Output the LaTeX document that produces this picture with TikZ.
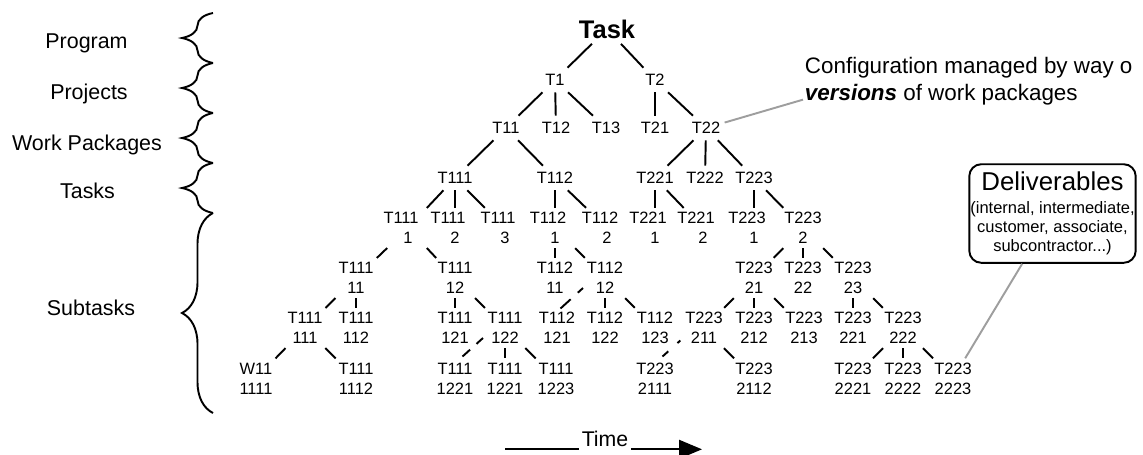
\documentclass[tikz,border=0pt]{standalone}
\usepackage{fontspec}
\setmainfont{Liberation Sans}
\usetikzlibrary{decorations.pathreplacing,arrows.meta,calc}

\newcommand\treefont{\fontsize{9.35}{11.3}\selectfont}
\newcommand\sidefont{\fontsize{12.2}{14.6}\selectfont}
\newcommand\taskfont{\fontsize{14.5}{17}\selectfont\bfseries}
\newcommand\cfgfont{\fontsize{12.75}{15.1}\selectfont}
\newcommand\delivbig{\fontsize{14.7}{17}\selectfont}
\newcommand\delivsmall{\fontsize{9.4}{10.9}\selectfont}
\newcommand\timefont{\fontsize{12.1}{14}\selectfont}
\newcommand\firstshift{\hspace*{0.85em}}

\begin{document}
\begin{tikzpicture}[x=0.02cm,y=-0.02cm,
  line width=1.1pt,
  taskbox/.style={font=\taskfont, inner xsep=2pt, inner ysep=2.7pt, text height=10.4pt, text depth=0pt},
  lbl/.style={font=\treefont, inner xsep=2pt, inner ysep=3.1pt, text height=6.7pt, text depth=0pt},
  lbl2/.style={font=\treefont, align=center, inner xsep=2pt, inner ysep=2pt},
  side/.style={font=\sidefont, anchor=base, inner sep=0pt},
  branch/.style={draw=black, line width=1.1pt},
  bracket/.style={decorate, decoration={brace, amplitude=0.62cm}, line width=1.1pt},
  note/.style={draw=black!38, line width=1.1pt},
]
\useasboundingbox (0,0) rectangle (1143,454);

% level names and their braces
\node[side] (lprog) at (86.5,48) {Program};
\node[side] (lproj) at (89,99.5) {Projects};
\node[side] (lwp)   at (87,150) {Work Packages};
\node[side] (ltask) at (87.5,198) {Tasks};
\node[side] (lsub)  at (91,315.7) {Subtasks};

\coordinate (b0) at (213,13);
\coordinate (b1) at (213,63);
\coordinate (b2) at (213,113);
\coordinate (b3) at (213,163);
\coordinate (b4) at (213,213);
\coordinate (b5) at (213,413);
\draw[bracket] (b1) -- (b0);
\draw[bracket] (b2) -- (b1);
\draw[bracket] (b3) -- (b2);
\draw[bracket] (b4) -- (b3);
\draw[bracket] (b5) -- (b4);

% task tree
\node[taskbox] (task) at (607,29) {Task};
\node[lbl] (t1) at (555,80) {T1};
\node[lbl] (t2) at (655,80) {T2};
\node[lbl] (t11) at (506,128) {T11};
\node[lbl] (t12) at (556,128) {T12};
\node[lbl] (t13) at (606,128) {T13};
\node[lbl] (t21) at (655,128) {T21};
\node[lbl] (t22) at (706,128) {T22};
\node[lbl] (t111) at (455,178) {T111};
\node[lbl] (t112) at (555,178) {T112};
\node[lbl] (t221) at (655,178) {T221};
\node[lbl] (t222) at (705,178) {T222};
\node[lbl] (t223) at (754,178) {T223};

\node[lbl2] (t1111) at (408,228) {T111\firstshift\\1};
\node[lbl2] (t1112) at (455,228) {T111\firstshift\\2};
\node[lbl2] (t1113) at (505,228) {T111\firstshift\\3};
\node[lbl2] (t1121) at (555,228) {T112\firstshift\\1};
\node[lbl2] (t1122) at (607,228) {T112\firstshift\\2};
\node[lbl2] (t2211) at (655,228) {T221\firstshift\\1};
\node[lbl2] (t2212) at (703,228) {T221\firstshift\\2};
\node[lbl2] (t2231) at (754,228) {T223\firstshift\\1};
\node[lbl2] (t2232) at (803,228) {T223\\2};

\node[lbl2] (t11111) at (356,278) {T111\\11};
\node[lbl2] (t11112) at (455,278) {T111\\12};
\node[lbl2] (t11211) at (555,278) {T112\\11};
\node[lbl2] (t11212) at (605,278) {T112\\12};
\node[lbl2] (t22321) at (754,278) {T223\\21};
\node[lbl2] (t22322) at (803,278) {T223\\22};
\node[lbl2] (t22323) at (853,278) {T223\\23};

\node[lbl2] (t111111) at (305,328) {T111\\111};
\node[lbl2] (t111112) at (356,328) {T111\\112};
\node[lbl2] (t111121) at (455,328) {T111\\121};
\node[lbl2] (t111122) at (505,328) {T111\\122};
\node[lbl2] (t112121) at (557,328) {T112\\121};
\node[lbl2] (t112122) at (605,328) {T112\\122};
\node[lbl2] (t112123) at (655,328) {T112\\123};
\node[lbl2] (t223211) at (704,328) {T223\\211};
\node[lbl2] (t223212) at (754,328) {T223\\212};
\node[lbl2] (t223213) at (804,328) {T223\\213};
\node[lbl2] (t223221) at (853,328) {T223\\221};
\node[lbl2] (t223222) at (903,328) {T223\\222};

\node[lbl2] (w111111)   at (256,378.5) {W11\\1111};
\node[lbl2] (t1111112)  at (356,378.5) {T111\\1112};
\node[lbl2] (t1111221a) at (455,378.5) {T111\\1221};
\node[lbl2] (t1111221b) at (505,378.5) {T111\\1221};
\node[lbl2] (t1111223)  at (556,378.5) {T111\\1223};
\node[lbl2] (t2232111)  at (655,378.5) {T223\\2111};
\node[lbl2] (t2232112)  at (754,378.5) {T223\\2112};
\node[lbl2] (t2232221)  at (853,378.5) {T223\\2221};
\node[lbl2] (t2232222)  at (903,378.5) {T223\\2222};
\node[lbl2] (t2232223)  at (953,378.5) {T223\\2223};

\foreach \p/\c in {task/t1, task/t2,
    t1/t11, t1/t12, t1/t13, t2/t21, t2/t22,
    t11/t111, t11/t112, t22/t221, t22/t222, t22/t223,
    t111/t1111, t111/t1112, t111/t1113, t112/t1121, t112/t1122,
    t221/t2211, t221/t2212, t223/t2231, t223/t2232,
    t1111/t11111, t1111/t11112, t1121/t11211, t1121/t11212,
    t2232/t22321, t2232/t22322, t2232/t22323,
    t11111/t111111, t11111/t111112, t11112/t111121, t11112/t111122,
    t11212/t112122, t11212/t112123,
    t22321/t223211, t22321/t223212, t22321/t223213,
    t22323/t223221, t22323/t223222,
    t111111/w111111, t111111/t1111112,
    t111122/t1111221b, t111122/t1111223,
    t223211/t2232112,
    t223222/t2232221, t223222/t2232222, t223222/t2232223}
  \draw[branch] (\p) -- (\c);

% branches that pass behind neighbouring labels
\draw[branch, dash pattern=on 4pt off 5.5pt on 20pt]
  ($(t11212)+(-22,10)$) -- ($(t112121)+(3.5,-19.5)$);
\draw[branch, dash pattern=on 5pt off 4.9pt on 20pt]
  ($(t111122)+(-22,10)$) -- ($(t1111221a)+(7.5,-22)$);
\draw[branch, dash pattern=on 2.2pt off 7pt on 20pt]
  ($(t223211)+(-23.7,12.5)$) -- ($(t2232111)+(7.5,-22)$);

% annotations
\node[font=\cfgfont, align=left, anchor=north west, inner sep=0pt] (cfg) at (804,56.3)
  {Configuration managed by way o\\\textbf{\textit{versions}} of work packages};
\draw[note] (t22) -- ($(cfg.south west)+(-1,-6)$);

\node[draw, rounded corners=6.8pt, minimum width=94.7pt, minimum height=56.1pt,
      inner sep=0pt, align=center, font=\delivsmall] (deliv) at (1052.5,213.5)
  {{\delivbig Deliverables}\\[2.3pt](internal, intermediate,\\customer, associate,\\subcontractor...)};
\draw[note] (deliv) -- (t2232223);

% time axis
\node[font=\timefont, anchor=base, inner xsep=1.2pt, inner ysep=0pt] (time) at (605,446.7) {Time};
\coordinate (tl) at (505,449.3);
\coordinate (tr) at (702,449.3);
\draw (tl) -- (tl -| time.west);
\draw[-{Triangle[length=13pt,width=10.6pt]}] (tr -| time.east) -- (tr);
\end{tikzpicture}
\end{document}
